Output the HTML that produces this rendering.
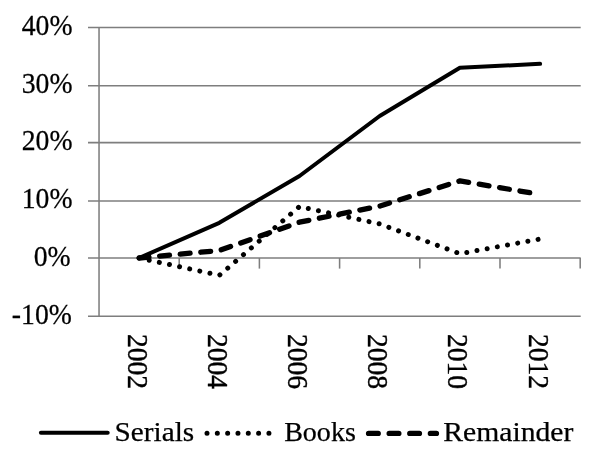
<!DOCTYPE html>
<html><head><meta charset="utf-8"><title>Chart</title>
<style>
html,body{margin:0;padding:0;background:#fff;}
svg{display:block;}
text{font-family:"Liberation Serif",serif;font-size:28px;fill:#000;}
</style></head><body>
<svg width="600" height="463" viewBox="0 0 600 463">
<rect width="600" height="463" fill="#fff"/>
<g stroke="#7e7e7e" stroke-width="1.55" fill="none">
<line x1="88" y1="27.44" x2="580.7" y2="27.44"/>
<line x1="88" y1="85.66" x2="580.7" y2="85.66"/>
<line x1="88" y1="142.64" x2="580.7" y2="142.64"/>
<line x1="88" y1="201.00" x2="580.7" y2="201.00"/>
<line x1="88" y1="258.00" x2="580.7" y2="258.00"/>
<line x1="88" y1="316.15" x2="580.7" y2="316.15"/>
<line x1="99.03" y1="27.44" x2="99.03" y2="316.15"/>
<line x1="179.2" y1="258" x2="179.2" y2="268.6"/>
<line x1="259.4" y1="258" x2="259.4" y2="268.6"/>
<line x1="339.6" y1="258" x2="339.6" y2="268.6"/>
<line x1="419.8" y1="258" x2="419.8" y2="268.6"/>
<line x1="500.0" y1="258" x2="500.0" y2="268.6"/>
<line x1="580.2" y1="258" x2="580.2" y2="268.6"/>
</g>
<g fill="none" stroke="#000" stroke-linejoin="round">
<path d="M139.1,258.0 L219.3,275.3 L299.5,206.6 L379.7,223.9 L459.9,253.7 L540.1,239.0" stroke-width="5.0" stroke-linecap="round" stroke-dasharray="0.01 10.34"/>
<path d="M139.1,258.0 L219.3,250.5 L299.5,222.2 L379.7,206.1 L459.9,180.9 L538.6,194.2" stroke-width="5.3" stroke-linecap="round" stroke-dasharray="9.9 10.75"/>
<path d="M139.1,258.0 L219.3,222.8 L299.5,176.0 L379.7,116.0 L459.9,67.8 L540.1,63.8" stroke-width="4" stroke-linecap="round"/>
</g>
<g>
<text transform="translate(72.5,35.3) scale(0.99,1.07)" text-anchor="end" stroke="#000" stroke-width="0.25">40%</text>
<text transform="translate(72.5,92.6) scale(0.99,1.07)" text-anchor="end" stroke="#000" stroke-width="0.25">30%</text>
<text transform="translate(72.5,150.2) scale(0.99,1.07)" text-anchor="end" stroke="#000" stroke-width="0.25">20%</text>
<text transform="translate(72.5,207.6) scale(0.99,1.07)" text-anchor="end" stroke="#000" stroke-width="0.25">10%</text>
<text transform="translate(70.7,266.4) scale(0.99,1.07)" text-anchor="end" stroke="#000" stroke-width="0.25">0%</text>
<text transform="translate(71.9,323.9) scale(0.99,1.07)" text-anchor="end" stroke="#000" stroke-width="0.25">-10%</text>
<text transform="translate(127.5,333.9) rotate(90) scale(0.985,1.085)" stroke="#000" stroke-width="0.35">2002</text>
<text transform="translate(207.7,333.9) rotate(90) scale(0.985,1.085)" stroke="#000" stroke-width="0.35">2004</text>
<text transform="translate(287.9,333.9) rotate(90) scale(0.985,1.085)" stroke="#000" stroke-width="0.35">2006</text>
<text transform="translate(368.1,333.9) rotate(90) scale(0.985,1.085)" stroke="#000" stroke-width="0.35">2008</text>
<text transform="translate(448.3,333.9) rotate(90) scale(0.985,1.085)" stroke="#000" stroke-width="0.35">2010</text>
<text transform="translate(528.5,333.9) rotate(90) scale(0.985,1.085)" stroke="#000" stroke-width="0.35">2012</text>
</g>
<g fill="none" stroke="#000">
<line x1="40.9" y1="432.8" x2="107.7" y2="432.8" stroke-width="4" stroke-linecap="round"/>
<line x1="207" y1="433.3" x2="270" y2="433.3" stroke-width="5.0" stroke-linecap="round" stroke-dasharray="0.01 10.31"/>
<line x1="368.6" y1="433.4" x2="436.4" y2="433.4" stroke-width="5.4" stroke-linecap="round" stroke-dasharray="9.6 11"/>
</g>
<text x="114.6" y="440.7" textLength="79.6" lengthAdjust="spacingAndGlyphs" stroke="#000" stroke-width="0.25">Serials</text>
<text x="284.2" y="440.7" textLength="71.6" lengthAdjust="spacingAndGlyphs" stroke="#000" stroke-width="0.25">Books</text>
<text x="443.3" y="440.7" textLength="130" lengthAdjust="spacingAndGlyphs" stroke="#000" stroke-width="0.25">Remainder</text>
</svg>
</body></html>
